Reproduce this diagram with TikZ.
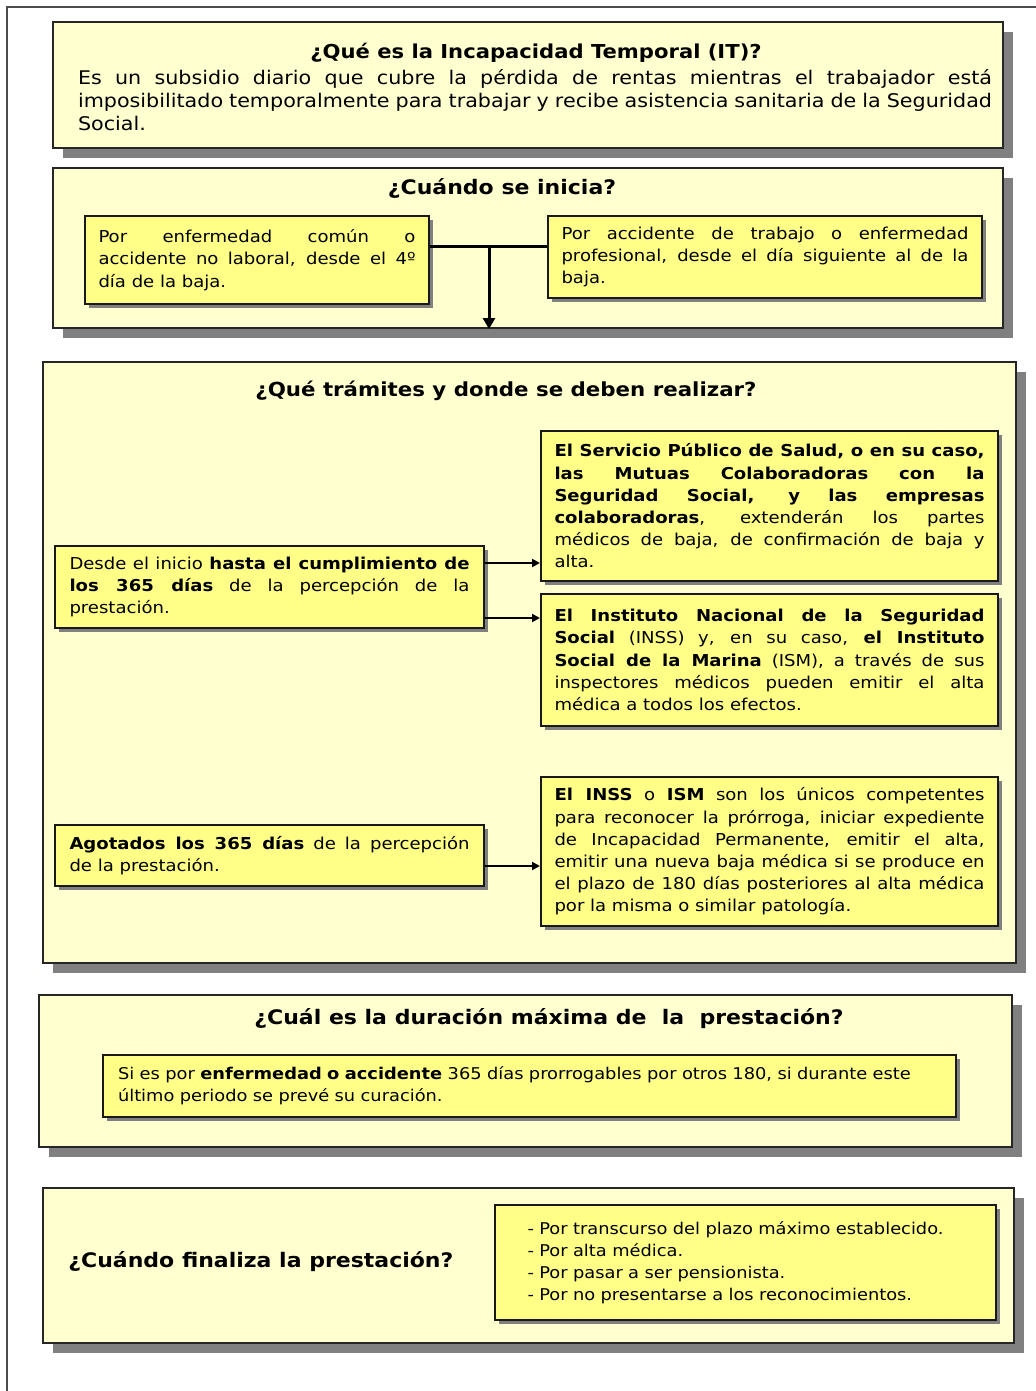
\documentclass[tikz,border=0pt]{standalone}
\usepackage{fontspec}
\setmainfont{DejaVu Sans}[FakeStretch=1.1]
\usepackage{tikz}
\usetikzlibrary{arrows.meta,shadows,positioning}
\definecolor{paleyellow}{RGB}{255,255,208}
\definecolor{boxyellow}{RGB}{255,255,136}
\definecolor{shadowgray}{RGB}{128,128,128}
\newcommand{\framewidth}{1pt}
\newcommand{\bodyfont}{\fontsize{8.2}{11.1}\selectfont}
\newcommand{\headfont}{\fontsize{10}{12}\selectfont\bfseries}

\begin{document}
\begin{tikzpicture}[x=0.5pt,y=-0.5pt,
    bigbox/.style={draw=black!85, line width=\framewidth, fill=paleyellow, inner sep=0pt,
        drop shadow={shadow xshift=5pt,shadow yshift=-5pt,fill=shadowgray,opacity=1}},
    smallbox/.style={draw=black!90, line width=\framewidth, fill=boxyellow, inner ysep=0pt,
        align=justify, font=\bodyfont,
        drop shadow={shadow xshift=2pt,shadow yshift=-2pt,fill=shadowgray,opacity=1}},
    headtext/.style={inner sep=0pt, font=\headfont},
    thickline/.style={line width=1.5pt},
    arrowline/.style={line width=1pt, -{Triangle[length=4pt,width=4pt]}}]
    \useasboundingbox (0,0) rectangle (1036,1391);
    \draw[line width=1pt, black!70] (7,1391) -- (7,7) -- (1036,7);

    %Box 1:
    \node[bigbox, minimum width=475pt, minimum height=63pt] (b1) at (528,85) {};
    \node[headtext, font=\fontsize{9.6}{11.5}\selectfont\bfseries] (t1) at (536,53)
        {¿Qué es la Incapacidad Temporal (IT)?};
    \node[inner sep=0pt, text width=457pt, align=justify, font=\fontsize{9.4}{11.4}\selectfont,
        anchor=north] (d1) at (535,69)
        {Es un subsidio diario que cubre la pérdida de rentas mientras el trabajador está\linebreak
         imposibilitado temporalmente para trabajar y recibe asistencia sanitaria de la Seguridad\linebreak
         Social.};

    %Box 2:
    \node[bigbox, minimum width=475pt, minimum height=80pt] (b2) at (528,248) {};
    \node[headtext] (t2) at (502,188) {¿Cuándo se inicia?};
    \node[smallbox, text width=158.5pt, inner xsep=6.75pt, minimum height=44pt] (comun) at (257,260)
        {Por enfermedad común o\linebreak accidente no laboral, desde el 4º\linebreak día de la baja.};
    \node[smallbox, text width=203.5pt, inner xsep=6.75pt, minimum height=41pt] (laboral) at (765,257)
        {Por accidente de trabajo o enfermedad\linebreak profesional, desde el día siguiente al de la\linebreak baja.};
    \coordinate (split) at (489,247);
    \draw[thickline] (comun.east |- split) -- (laboral.west |- split);
    \draw[thickline, -{Triangle[length=5.5pt,width=6pt]}] (split) -- (split |- b2.south);

    %Box 3:
    \node[bigbox, minimum width=486.5pt, minimum height=300.5pt] (b3) at (529.5,662.5) {};
    \node[headtext, font=\fontsize{9.7}{12}\selectfont\bfseries] (t3) at (506,391)
        {¿Qué trámites y donde se deben realizar?};
    \node[smallbox, text width=200pt, inner xsep=7.25pt, minimum height=41pt] (hasta) at (269.5,587)
        {Desde el inicio \textbf{hasta el cumplimiento de}\linebreak
         \textbf{los 365 días} de la percepción de la\linebreak prestación.};
    \node[smallbox, text width=215pt, inner xsep=6.75pt, minimum height=75pt] (salud) at (769.5,506)
        {\textbf{El Servicio Público de Salud, o en su caso,}\linebreak
         \textbf{las Mutuas Colaboradoras con la}\linebreak
         \textbf{Seguridad Social, y las empresas}\linebreak
         \textbf{colaboradoras}, extenderán los partes\linebreak
         médicos de baja, de confirmación de baja y\linebreak alta.};
    \node[smallbox, text width=215pt, inner xsep=6.75pt, minimum height=66pt] (inss) at (769.5,660)
        {\textbf{El Instituto Nacional de la Seguridad}\linebreak
         \textbf{Social} (INSS) y, en su caso, \textbf{el Instituto}\linebreak
         \textbf{Social de la Marina} (ISM), a través de sus\linebreak
         inspectores médicos pueden emitir el alta\linebreak
         médica a todos los efectos.};
    \node[smallbox, text width=200pt, inner xsep=7.25pt, minimum height=30.5pt] (agotados) at (269.5,855.5)
        {\textbf{Agotados los 365 días} de la percepción\linebreak de la prestación.};
    \node[smallbox, text width=215pt, inner xsep=6.75pt, minimum height=74.5pt] (ism) at (769.5,851.5)
        {\textbf{El INSS} o \textbf{ISM} son los únicos competentes\linebreak
         para reconocer la prórroga, iniciar expediente\linebreak
         de Incapacidad Permanente, emitir el alta,\linebreak
         emitir una nueva baja médica si se produce en\linebreak
         el plazo de 180 días posteriores al alta médica\linebreak
         por la misma o similar patología.};
    \draw[arrowline] ([yshift=12pt]hasta.east) -- ([yshift=12pt]hasta.east -| salud.west);
    \draw[arrowline] ([yshift=-15.5pt]hasta.east) -- ([yshift=-15.5pt]hasta.east -| inss.west);
    \draw[arrowline] ([yshift=-5.25pt]agotados.east) -- ([yshift=-5.25pt]agotados.east -| ism.west);

    %Box 4:
    \node[bigbox, minimum width=486.5pt, minimum height=76pt] (b4) at (525.5,1071) {};
    \node[headtext] (t4) at (549,1019) {¿Cuál es la duración máxima de\ \ la\ \ prestación?};
    \node[smallbox, text width=411.5pt, inner xsep=7.5pt, minimum height=31pt, align=left,
        font=\fontsize{8.1}{11}\selectfont] (duracion) at (529.5,1086)
        {Si es por \textbf{enfermedad o accidente} 365 días prorrogables por otros 180, si durante este\\
         último periodo se prevé su curación.};

    %Box 5:
    \node[bigbox, minimum width=485.5pt, minimum height=77.5pt] (b5) at (528.5,1265.5) {};
    \node[headtext, anchor=west] (t5) at (68,1262) {¿Cuándo finaliza la prestación?};
    \node[smallbox, text width=218pt, inner xsep=16.25pt, minimum height=57.5pt, align=left,
        font=\fontsize{8.1}{10.9}\selectfont] (fin) at (745.5,1262.5)
        {- Por transcurso del plazo máximo establecido.\\
         - Por alta médica.\\
         - Por pasar a ser pensionista.\\
         - Por no presentarse a los reconocimientos.};
\end{tikzpicture}
\end{document}
